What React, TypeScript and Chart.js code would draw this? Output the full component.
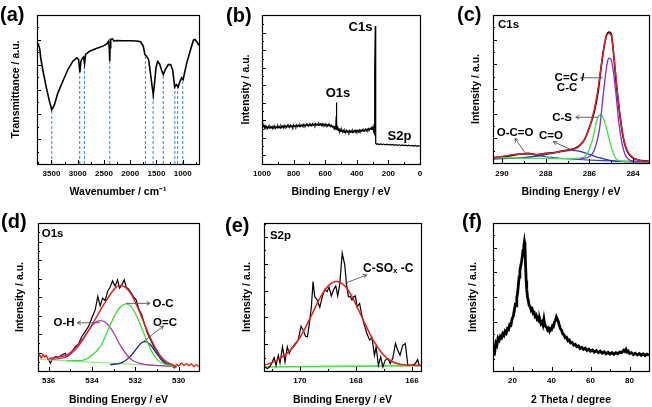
import React, { useEffect, useRef } from 'react';
import { Chart, registerables } from 'chart.js';

Chart.register(...registerables);

const W = 652;
const H = 407;
const FONT = "'Liberation Sans', Arial, Helvetica, sans-serif";
const TITLE_SIZE = 10.5;
const TICK_SIZE = 8;
const NOTE_SIZE = 11.5;

type Pt = [number, number];

// ---------------- (a) FTIR ----------------
const ftirCurve: Pt[] = [
  [3774, 79.1], [3749, 80.2], [3723, 77.3], [3704, 71.2], [3666, 63.4], [3602, 52.1], [3538, 42.0],
  [3494, 36.4], [3443, 39.8], [3379, 47.6], [3283, 55.5], [3187, 63.4], [3092, 69.0], [3015, 71.2],
  [2983, 70.1], [2958, 61.6], [2939, 69.0], [2907, 71.2], [2888, 71.9], [2869, 67.4], [2849, 73.5],
  [2773, 75.7], [2645, 77.5], [2518, 79.1], [2441, 80.7], [2409, 82.5], [2397, 76.9], [2390, 69.0],
  [2384, 78.0], [2371, 83.6], [2339, 84.0], [2307, 82.5], [2263, 82.9], [2135, 82.7], [2008, 82.7],
  [1880, 82.5], [1803, 82.0], [1752, 79.1], [1720, 73.5], [1689, 72.4], [1650, 70.1], [1619, 62.2],
  [1587, 53.3], [1561, 46.5], [1536, 54.4], [1510, 64.5], [1478, 68.8], [1440, 67.2], [1402, 62.9],
  [1370, 60.0], [1332, 63.4], [1274, 66.7], [1229, 66.7], [1191, 62.9], [1153, 51.7], [1121, 53.3],
  [1089, 51.7], [1051, 55.5], [1019, 57.8], [993, 56.6], [968, 60.7], [923, 67.9], [860, 75.7],
  [796, 83.1], [764, 83.6], [732, 82.0], [690, 79.6],
];
const ftirBandWavenumbers = [3494, 2962, 2872, 2390, 1710, 1564, 1370, 1150, 1098, 1000];
const ftirBandLevels = [36.4, 62.0, 67.4, 69.0, 73.2, 46.5, 60.0, 51.7, 52.5, 56.6];
const ftirTicks = [3500, 3000, 2500, 2000, 1500, 1000];

// ---------------- (b) XPS survey ----------------
const surveyCurve: Pt[] = [
  [1000, 25.5], [997, 28.5], [994, 27.0], [991, 25.0], [988, 26.5], [984, 24.2], [980, 25.6], [975, 24.4],
  [970, 25.3], [965, 23.9], [960, 25.2], [955, 24.1], [950, 25.5], [945, 24.4], [940, 25.0], [935, 23.8],
  [930, 25.4], [925, 24.5], [920, 25.6], [915, 24.0], [910, 25.1], [905, 24.3], [900, 25.7], [895, 24.6],
  [890, 25.2], [885, 24.1], [880, 25.8], [875, 24.7], [870, 25.4], [865, 24.3], [860, 25.9], [855, 24.8],
  [850, 25.5], [845, 24.6], [840, 26.0], [835, 24.9], [830, 25.6], [825, 24.5], [820, 26.1], [815, 25.0],
  [810, 25.7], [805, 24.6], [800, 26.2], [795, 25.1], [790, 25.8], [785, 24.9], [780, 26.3], [775, 25.2],
  [770, 26.0], [765, 25.0], [760, 26.5], [755, 25.4], [750, 26.1], [745, 25.2], [740, 26.6], [735, 25.5],
  [730, 26.3], [725, 25.3], [720, 26.8], [715, 25.7], [710, 26.4], [705, 25.5], [700, 26.9], [695, 25.8],
  [690, 26.5], [685, 25.6], [680, 27.0], [675, 26.0], [670, 26.7], [665, 25.7], [660, 27.1], [655, 26.1],
  [650, 26.8], [645, 25.9], [640, 27.2], [635, 26.2], [630, 26.9], [625, 25.8], [620, 27.1], [615, 26.0],
  [610, 26.7], [605, 25.7], [600, 26.9], [595, 25.8], [590, 26.5], [585, 25.4], [580, 26.6], [575, 25.5],
  [570, 26.2], [565, 25.1], [560, 26.0], [555, 24.8], [550, 25.4], [545, 24.2], [540, 24.8], [536, 23.4],
  [533, 24.6], [531, 30.0], [529, 41.2], [527, 29.0], [525, 23.0], [521, 25.2], [517, 22.4], [513, 24.0],
  [509, 21.6], [505, 23.2], [500, 21.8], [495, 23.0], [490, 21.4], [485, 22.6], [480, 21.2], [475, 22.4],
  [470, 21.0], [465, 22.5], [460, 21.3], [455, 22.2], [450, 21.0], [445, 22.4], [440, 21.4], [435, 22.3],
  [430, 21.1], [425, 22.6], [420, 21.5], [415, 22.4], [410, 21.3], [405, 22.7], [400, 21.6], [395, 22.5],
  [390, 21.5], [385, 22.9], [380, 21.8], [375, 22.7], [370, 21.9], [365, 23.1], [360, 22.0], [355, 23.0],
  [350, 22.2], [345, 23.4], [340, 22.4], [335, 23.5], [330, 22.6], [325, 23.8], [320, 22.8], [315, 24.0],
  [310, 23.2], [305, 24.4], [300, 23.6], [297, 25.0], [294, 22.0], [291, 21.0], [289, 20.0], [287, 28.0],
  [285, 60.0], [283, 92.6], [281.5, 60.0], [280.5, 20.0], [279, 13.8], [275, 13.3], [270, 13.6], [260, 13.1],
  [250, 13.5], [240, 13.0], [230, 13.4], [220, 12.9], [210, 13.3], [200, 12.8], [190, 13.2], [180, 12.7],
  [170, 13.1], [160, 12.6], [150, 13.0], [140, 12.5], [130, 12.9], [120, 12.4], [110, 12.8], [100, 12.3],
  [90, 12.7], [80, 12.2], [70, 12.6], [60, 12.1], [50, 12.5], [40, 12.0], [30, 12.4], [20, 11.9], [10, 12.3],
  [0, 11.9],
];
const surveyTicks = [1000, 800, 600, 400, 200, 0];

// ---------------- (c) C1s ----------------
const c1sRaw: Pt[] = [
  [290.41, 3.6], [290.0, 4.0], [289.6, 5.0], [289.2, 5.9], [288.8, 6.5], [288.4, 5.5], [288.0, 6.5],
  [287.6, 7.0], [287.2, 8.3], [286.9, 9.0], [286.6, 10.4], [286.4, 12.5], [286.2, 16.5], [286.0, 24.0],
  [285.8, 33.0], [285.6, 48.0], [285.45, 66.0], [285.3, 80.5], [285.2, 87.0], [285.1, 88.5], [285.0, 87.5],
  [284.9, 75.0], [284.75, 51.0], [284.6, 32.0], [284.45, 17.0], [284.3, 9.0], [284.1, 4.5], [283.8, 2.2],
  [283.27, 1.2],
];
const c1sFit: Pt[] = [
  [290.41, 3.4], [289.95, 4.5], [289.34, 5.8], [288.88, 6.3], [288.42, 5.8], [287.96, 6.3], [287.5, 7.2],
  [287.04, 8.5], [286.58, 10.1], [286.35, 13.0], [286.12, 19.1], [285.89, 29.2], [285.66, 44.9],
  [285.48, 62.9], [285.33, 78.7], [285.2, 86.5], [285.1, 87.6], [284.99, 85.8], [284.87, 71.9],
  [284.74, 51.7], [284.59, 31.5], [284.44, 16.9], [284.25, 7.9], [283.98, 3.4], [283.67, 1.8], [283.27, 1.1],
];
const c1sCC: Pt[] = [
  [286.43, 2.7], [285.97, 4.5], [285.74, 10.1], [285.54, 22.5], [285.39, 42.7], [285.26, 59.6],
  [285.17, 68.5], [285.1, 70.8], [285.0, 69.7], [284.9, 61.8], [284.77, 44.9], [284.65, 27.0],
  [284.51, 13.5], [284.36, 5.6], [284.13, 1.8], [283.67, 0.9], [283.27, 0.7],
];
const c1sCS: Pt[] = [
  [290.41, 3.6], [288.73, 3.1], [287.19, 2.9], [286.35, 3.4], [286.04, 7.9], [285.84, 16.9], [285.69, 27.0],
  [285.59, 31.5], [285.48, 32.6], [285.36, 30.3], [285.2, 22.5], [285.05, 13.5], [284.9, 6.3], [284.72, 2.2],
  [284.28, 0.9], [283.27, 0.7],
];
const c1sCO: Pt[] = [
  [290.41, 2.7], [289.03, 3.6], [288.27, 4.9], [287.65, 6.7], [287.19, 7.9], [286.81, 8.5], [286.43, 7.9],
  [285.97, 5.6], [285.51, 3.4], [285.05, 1.8], [284.44, 0.9], [283.27, 0.7],
];
const c1sOCO: Pt[] = [
  [290.41, 3.6], [289.8, 4.9], [289.19, 6.1], [288.73, 6.1], [288.27, 4.9], [287.65, 3.6], [286.89, 2.7],
  [285.66, 1.8], [283.27, 0.9],
];
const c1sTicks = [290, 288, 286, 284];

// ---------------- (d) O1s ----------------
const o1sRaw: Pt[] = [
  [536.0, 7.9], [535.92, 5.2], [535.85, 7.4], [535.69, 9.7], [535.54, 9.3], [535.39, 10.8], [535.23, 12.0],
  [535.16, 9.7], [535.0, 11.5], [534.77, 16.5], [534.62, 18.3], [534.47, 23.3], [534.31, 26.6],
  [534.16, 30.0], [534.01, 35.7], [533.85, 41.3], [533.73, 50.3], [533.62, 44.0], [533.51, 49.2],
  [533.39, 47.6], [533.28, 53.7], [533.16, 56.7], [533.05, 60.9], [532.93, 57.3], [532.82, 61.6],
  [532.73, 56.0], [532.62, 58.2], [532.51, 61.6], [532.42, 56.7], [532.31, 55.3], [532.19, 52.6],
  [532.09, 50.3], [531.96, 48.1], [531.84, 41.8], [531.7, 37.9], [531.58, 31.8], [531.44, 25.5],
  [531.29, 21.0], [531.14, 16.5], [530.99, 13.1], [530.83, 9.7], [530.68, 7.0], [530.53, 5.6],
  [530.37, 4.7], [530.25, 2.9], [530.17, 1.8],
];
const o1sFit: Pt[] = [
  [536.49, 9.7], [536.41, 10.8], [536.34, 8.6], [536.26, 11.3], [536.18, 9.3], [536.11, 10.6],
  [536.03, 7.9], [535.92, 8.6], [535.62, 9.3], [535.16, 10.8], [534.7, 16.5], [534.24, 25.5],
  [533.78, 36.8], [533.32, 48.1], [532.93, 56.0], [532.7, 57.8], [532.47, 56.7], [532.17, 51.5],
  [531.78, 39.1], [531.4, 25.5], [531.02, 14.2], [530.71, 7.9], [530.4, 4.7], [530.25, 4.1],
  [530.17, 2.9], [530.1, 4.5], [529.99, 3.4], [529.87, 5.2], [529.75, 3.8], [529.64, 5.0],
  [529.52, 3.6], [529.41, 4.7], [529.29, 2.9], [529.18, 4.3], [529.06, 2.9],
];
const o1sOC: Pt[] = [
  [535.16, 7.0], [534.54, 7.0], [534.08, 9.7], [533.62, 16.5], [533.32, 25.5], [533.01, 35.7],
  [532.7, 43.1], [532.43, 45.4], [532.17, 43.1], [531.86, 34.5], [531.55, 23.3], [531.24, 13.1],
  [530.94, 7.0], [530.55, 4.1], [530.1, 2.9],
];
const o1sOH: Pt[] = [
  [535.92, 7.9], [535.31, 8.8], [534.85, 13.1], [534.47, 19.9], [534.16, 27.3], [533.85, 32.7],
  [533.59, 34.1], [533.32, 32.3], [533.01, 26.0], [532.7, 17.6], [532.39, 10.8], [532.09, 6.8],
  [531.63, 4.7], [530.86, 3.6], [530.1, 2.9],
];
const o1sOdC: Pt[] = [
  [533.16, 4.3], [532.62, 5.6], [532.24, 9.7], [531.93, 15.3], [531.7, 19.2], [531.55, 19.9],
  [531.32, 18.1], [531.02, 12.0], [530.71, 6.3], [530.4, 3.6], [530.1, 2.5],
];
const o1sBase: Pt[] = [[536.4, 7.9], [530.1, 2.9]];
const o1sTicks = [536, 534, 532, 530];

// ---------------- (e) S2p ----------------
const s2pRaw: Pt[] = [
  [171.24, 2.7], [171.16, 1.6], [171.09, 2.7], [171.01, 5.0], [170.92, 9.0], [170.85, 3.8], [170.77, 10.6],
  [170.71, 5.4], [170.62, 16.3], [170.53, 6.1], [170.45, 16.3], [170.38, 11.8], [170.3, 15.2],
  [170.18, 18.1], [170.06, 20.8], [169.96, 30.3], [169.88, 27.6], [169.8, 23.5], [169.73, 23.1],
  [169.67, 31.0], [169.59, 43.4], [169.53, 60.4], [169.47, 50.2], [169.38, 48.0], [169.29, 43.0],
  [169.2, 50.2], [169.11, 55.2], [169.03, 53.6], [168.96, 56.6], [168.88, 50.7], [168.79, 55.2],
  [168.72, 57.5], [168.65, 50.7], [168.58, 58.4], [168.49, 79.6], [168.4, 71.7], [168.34, 59.3],
  [168.27, 50.2], [168.2, 50.2], [168.14, 48.0], [168.08, 50.2], [168.02, 50.7], [167.96, 43.4],
  [167.87, 45.7], [167.78, 36.7], [167.69, 30.3], [167.61, 25.3], [167.51, 20.8], [167.43, 22.6],
  [167.34, 10.6], [167.28, 16.3], [167.2, 3.8], [167.12, 9.5], [167.04, 2.7], [166.96, 7.2],
  [166.86, 8.4], [166.78, 5.0], [166.69, 8.4], [166.59, 18.6], [166.51, 14.0], [166.43, 10.6],
  [166.33, 17.4], [166.24, 18.6], [166.15, 3.8], [166.07, 3.8], [165.98, 3.8], [165.88, 5.0],
  [165.8, 7.7], [165.74, 3.8], [165.68, 3.8],
];
const s2pFit: Pt[] = [
  [171.28, 3.8], [170.83, 7.2], [170.36, 13.6], [170.0, 22.6], [169.64, 35.5], [169.29, 49.1],
  [168.99, 57.5], [168.7, 60.4], [168.4, 57.5], [168.11, 49.1], [167.75, 34.8], [167.4, 21.3],
  [167.04, 11.3], [166.69, 6.1], [166.33, 4.3], [165.98, 3.8], [165.68, 3.6],
];
const s2pBase: Pt[] = [[171.28, 2.7], [165.68, 3.6]];
const s2pTicks = [170, 168, 166];

// ---------------- (f) XRD ----------------
const xrdCurve: Pt[] = [
  [10.0, 11.0], [10.5, 15.5], [11.0, 14.0], [11.5, 18.8], [12.0, 17.5], [12.6, 22.2], [13.2, 20.8],
  [13.8, 23.5], [14.4, 22.5], [15.0, 25.2], [15.6, 24.0], [16.2, 26.8], [16.8, 25.6], [17.4, 28.6],
  [18.0, 28.0], [18.6, 31.5], [19.2, 31.0], [19.8, 35.2], [20.4, 37.0], [21.0, 41.5], [21.4, 44.5],
  [21.8, 44.0], [22.2, 49.5], [22.6, 52.5], [23.0, 58.0], [23.4, 63.5], [23.8, 68.0], [24.2, 71.0],
  [24.6, 73.5], [25.0, 77.0], [25.4, 81.5], [25.8, 84.0], [26.1, 87.0], [26.4, 84.0], [26.7, 72.0],
  [27.0, 61.0], [27.3, 55.0], [27.7, 50.0], [28.1, 47.5], [28.6, 44.0], [29.1, 43.5], [29.6, 41.0],
  [30.1, 41.8], [30.6, 39.0], [31.1, 39.5], [31.6, 37.0], [32.1, 37.8], [32.6, 35.2], [33.1, 36.0],
  [33.6, 33.5], [34.1, 34.5], [34.6, 32.0], [35.1, 33.0], [35.6, 31.0], [36.1, 35.0], [36.5, 31.5],
  [37.0, 30.0], [37.5, 29.5], [38.0, 27.8], [38.5, 28.8], [39.0, 27.0], [39.5, 28.5], [40.0, 28.0],
  [40.5, 30.5], [41.0, 30.0], [41.5, 33.0], [42.0, 34.0], [42.5, 36.5], [43.0, 35.0], [43.5, 33.5],
  [44.0, 31.0], [44.6, 28.5], [45.2, 27.5], [45.8, 25.0], [46.4, 24.5], [47.0, 22.5], [47.7, 22.8],
  [48.4, 20.5], [49.1, 21.0], [49.8, 19.0], [50.6, 19.2], [51.4, 17.5], [52.2, 18.0], [53.0, 16.4],
  [53.8, 17.0], [54.6, 15.2], [55.5, 16.0], [56.4, 14.6], [57.3, 15.4], [58.2, 13.8], [59.1, 14.8],
  [60.0, 13.4], [61.0, 14.2], [62.0, 12.8], [63.0, 13.8], [64.0, 12.4], [65.0, 13.4], [66.0, 12.0],
  [67.0, 13.0], [68.0, 11.6], [69.0, 12.6], [70.0, 11.4], [71.0, 12.4], [72.0, 11.2], [73.0, 12.3],
  [74.0, 11.6], [75.0, 12.8], [76.0, 12.4], [77.0, 14.0], [77.6, 13.2], [78.2, 14.6], [78.8, 12.8],
  [79.4, 13.4], [80.0, 11.8], [81.0, 12.4], [82.0, 11.0], [83.0, 12.0], [84.0, 10.8], [85.0, 11.8],
  [86.0, 10.6], [87.0, 11.6], [88.0, 10.4], [89.0, 11.4], [90.0, 10.6],
];
const xrdTicks = [20, 40, 60, 80];

// ---------------- annotations ----------------
type Part = { t: string; size: number; dy?: number };
type Note = { text?: string; parts?: Part[]; x: number; y: number; align?: CanvasTextAlign; size?: number };
type Arrow = [number, number, number, number];

const surveyNotes: Note[] = [
  { text: 'O1s', x: 519, y: 47.7, size: 13 },
  { text: 'C1s', x: 377, y: 91.6, size: 13 },
  { text: 'S2p', x: 130, y: 18.8, size: 13 },
];
const c1sNotes: Note[] = [
  { text: 'C1s', x: 290.18, y: 93.2, align: 'left' },
  { text: 'C=C /', x: 286.91, y: 57.4 },
  { text: 'C-C', x: 287.02, y: 50.7 },
  { text: 'C-S', x: 287.25, y: 30.7 },
  { text: 'O-C=O', x: 289.4, y: 20.6 },
  { text: 'C=O', x: 287.76, y: 18.2 },
];
const c1sArrows: Arrow[] = [
  [285.38, 57.6, 286.4, 57.6],
  [285.59, 30.9, 286.62, 30.9],
  [286.73, 8.3, 287.65, 14.4],
  [288.87, 5.2, 289.4, 16.7],
];
const o1sNotes: Note[] = [
  { text: 'O1s', x: 536.32, y: 92.6, align: 'left' },
  { text: 'O-C', x: 530.72, y: 45.3 },
  { text: 'O=C', x: 530.63, y: 32.8 },
  { text: 'O-H', x: 535.29, y: 32.4 },
];
const o1sArrows: Arrow[] = [
  [532.43, 45.7, 531.32, 45.7],
  [533.63, 32.6, 534.68, 32.6],
  [531.63, 19.8, 530.7, 30.4],
];
const s2pNotes: Note[] = [
  { text: 'S2p', x: 171.07, y: 91.6, align: 'left' },
  { parts: [{ t: 'C-SO', size: 12 }, { t: 'x', size: 8, dy: 2 }, { t: ' -C', size: 12 }], x: 166.85, y: 69 },
];
const s2pArrows: Arrow[] = [[168.39, 59.3, 167.62, 64.9]];

// ---------------- drawing helpers ----------------
const decorPlugin = {
  id: 'decor',
  afterDraw(chart: any, _args: any, o: any) {
    const { ctx, chartArea: a } = chart;
    const xs = chart.scales.x;
    const ys = chart.scales.y;
    ctx.save();
    ctx.strokeStyle = '#000';
    ctx.fillStyle = '#000';
    // inward ticks on bottom and left
    ctx.lineWidth = 1;
    ctx.beginPath();
    const start = Math.ceil(xs.min / o.xMinor - 1e-6) * o.xMinor;
    for (let v = start; v <= xs.max + 1e-6; v += o.xMinor) {
      const r = v / o.xMajor;
      const major = Math.abs(r - Math.round(r)) < 1e-6;
      const px = Math.round(xs.getPixelForValue(v)) + 0.5;
      ctx.moveTo(px, a.bottom);
      ctx.lineTo(px, a.bottom - (major ? 4 : 2));
    }
    for (let k = -3; k < 40; k++) {
      const vals = [o.yStart + k * o.yStep, o.yStart + (k + 0.5) * o.yStep];
      vals.forEach((v, j) => {
        if (v < -0.01 || v > 100.01) return;
        const py = Math.round(ys.getPixelForValue(v)) + 0.5;
        ctx.moveTo(a.left, py);
        ctx.lineTo(a.left + (j === 0 ? 4 : 2), py);
      });
    }
    ctx.stroke();
    // frame
    ctx.lineWidth = 1.2;
    ctx.strokeRect(Math.round(a.left) + 0.5, Math.round(a.top) + 0.5, Math.round(a.right - a.left), Math.round(a.bottom - a.top));
    // arrows
    ctx.strokeStyle = '#555';
    ctx.lineWidth = 0.9;
    (o.arrows || []).forEach((ar: Arrow) => {
      const x1 = xs.getPixelForValue(ar[0]);
      const y1 = ys.getPixelForValue(ar[1]);
      const x2 = xs.getPixelForValue(ar[2]);
      const y2 = ys.getPixelForValue(ar[3]);
      const ang = Math.atan2(y2 - y1, x2 - x1);
      ctx.beginPath();
      ctx.moveTo(x1, y1);
      ctx.lineTo(x2, y2);
      ctx.moveTo(x2 - 4 * Math.cos(ang - 0.5), y2 - 4 * Math.sin(ang - 0.5));
      ctx.lineTo(x2, y2);
      ctx.lineTo(x2 - 4 * Math.cos(ang + 0.5), y2 - 4 * Math.sin(ang + 0.5));
      ctx.stroke();
    });
    // notes
    ctx.fillStyle = '#000';
    ctx.textBaseline = 'middle';
    (o.notes || []).forEach((n: Note) => {
      const px = xs.getPixelForValue(n.x);
      const py = ys.getPixelForValue(n.y);
      if (n.parts) {
        let total = 0;
        n.parts.forEach((p) => {
          ctx.font = `bold ${p.size}px ${FONT}`;
          total += ctx.measureText(p.t).width;
        });
        let cx = px - total / 2;
        ctx.textAlign = 'left';
        n.parts.forEach((p) => {
          ctx.font = `bold ${p.size}px ${FONT}`;
          ctx.fillText(p.t, cx, py + (p.dy || 0));
          cx += ctx.measureText(p.t).width;
        });
      } else {
        ctx.font = `bold ${n.size || NOTE_SIZE}px ${FONT}`;
        ctx.textAlign = n.align || 'center';
        ctx.fillText(n.text, px, py);
      }
    });
    // panel label
    ctx.font = `bold 20px ${FONT}`;
    ctx.textAlign = 'left';
    ctx.textBaseline = 'middle';
    ctx.fillText(o.label, o.labelX, o.labelY);
    ctx.restore();
  },
};

type Series = { pts: Pt[]; color: string; width: number; smooth?: boolean; dash?: number[] };
type Panel = {
  label: string; labelX: number; labelY: number;
  area: { l: number; t: number; r: number; b: number };
  yTitleX: number; xTitleY: number; tickY: number;
  xMin: number; xMax: number; reverse: boolean; ticks: number[]; xMajor: number; xMinor: number;
  yStart: number; yStep: number;
  xTitle: string; yTitle: string;
  series: Series[]; // first = topmost
  notes?: Note[]; arrows?: Arrow[];
};

const RED = '#ee1c1c';
const bands: Series[] = ftirBandWavenumbers.map((w, i) => ({
  pts: [[w, 0], [w, ftirBandLevels[i]]] as Pt[], color: '#3f8ff0', width: 1.1, dash: [3, 2],
}));

const panels: Panel[] = [
  {
    label: '(a)', labelX: 0, labelY: 15,
    area: { l: 37, t: 15, r: 199, b: 164 }, yTitleX: 16, xTitleY: 192, tickY: 174,
    xMin: 690, xMax: 3775, reverse: true, ticks: ftirTicks, xMajor: 500, xMinor: 250,
    yStart: 0, yStep: 100 / 6,
    xTitle: 'Wavenumber / cm⁻¹', yTitle: 'Transmittance / a.u.',
    series: [{ pts: ftirCurve, color: '#000', width: 1.6 }, ...bands],
  },
  {
    label: '(b)', labelX: 226, labelY: 16,
    area: { l: 262, t: 15, r: 420, b: 164 }, yTitleX: 246, xTitleY: 192, tickY: 174,
    xMin: 0, xMax: 1000, reverse: true, ticks: surveyTicks, xMajor: 200, xMinor: 100,
    yStart: 6, yStep: 11.75,
    xTitle: 'Binding Energy / eV', yTitle: 'Intensity / a.u.',
    series: [{ pts: surveyCurve, color: '#000', width: 1.2 }],
    notes: surveyNotes,
  },
  {
    label: '(c)', labelX: 457, labelY: 15,
    area: { l: 493, t: 15, r: 649, b: 163 }, yTitleX: 476, xTitleY: 192, tickY: 174,
    xMin: 283.27, xMax: 290.41, reverse: true, ticks: c1sTicks, xMajor: 2, xMinor: 1,
    yStart: 0, yStep: 100 / 6,
    xTitle: 'Binding Energy / eV', yTitle: 'Intensity / a.u.',
    series: [
      { pts: c1sFit, color: RED, width: 1.4, smooth: true },
      { pts: c1sCC, color: '#7b2be0', width: 1.3, smooth: true },
      { pts: c1sCS, color: '#3ce83c', width: 1.3, smooth: true },
      { pts: c1sCO, color: '#1e3ca8', width: 1.3, smooth: true },
      { pts: c1sOCO, color: '#2a48b8', width: 1.2, smooth: true },
      { pts: c1sRaw, color: '#000', width: 1.6, smooth: true },
    ],
    notes: c1sNotes, arrows: c1sArrows,
  },
  {
    label: '(d)', labelX: 1, labelY: 222,
    area: { l: 38, t: 223, r: 199, b: 371 }, yTitleX: 20, xTitleY: 400, tickY: 381,
    xMin: 529.06, xMax: 536.49, reverse: true, ticks: o1sTicks, xMajor: 2, xMinor: 1,
    yStart: 0, yStep: 12.5,
    xTitle: 'Binding Energy / eV', yTitle: 'Intensity / a.u.',
    series: [
      { pts: o1sFit, color: RED, width: 1.4, smooth: true },
      { pts: o1sOC, color: '#3ce03c', width: 1.3, smooth: true },
      { pts: o1sOH, color: '#a83ca8', width: 1.3, smooth: true },
      { pts: o1sOdC, color: '#16288a', width: 1.3, smooth: true },
      { pts: o1sBase, color: '#8cf07c', width: 1.3 },
      { pts: o1sRaw, color: '#000', width: 1.2 },
    ],
    notes: o1sNotes, arrows: o1sArrows,
  },
  {
    label: '(e)', labelX: 225, labelY: 226,
    area: { l: 264, t: 223, r: 421, b: 371 }, yTitleX: 247, xTitleY: 400, tickY: 381,
    xMin: 165.68, xMax: 171.28, reverse: true, ticks: s2pTicks, xMajor: 2, xMinor: 1,
    yStart: 0, yStep: 18.1,
    xTitle: 'Binding Energy / eV', yTitle: 'Intensity / a.u.',
    series: [
      { pts: s2pFit, color: RED, width: 1.5, smooth: true },
      { pts: s2pRaw, color: '#000', width: 1.2 },
      { pts: s2pBase, color: '#3ce83c', width: 1.6 },
    ],
    notes: s2pNotes, arrows: s2pArrows,
  },
  {
    label: '(f)', labelX: 462, labelY: 222,
    area: { l: 493, t: 223, r: 649, b: 371 }, yTitleX: 473, xTitleY: 400, tickY: 381,
    xMin: 10, xMax: 90, reverse: false, ticks: xrdTicks, xMajor: 20, xMinor: 10,
    yStart: 0, yStep: 100 / 6,
    xTitle: '2 Theta / degree', yTitle: 'Intensity / a.u.',
    series: [{ pts: xrdCurve, color: '#000', width: 2.8 }],
  },
];

function buildConfig(p: Panel): any {
  const half = TITLE_SIZE / 2;
  const datasets = p.series
    .slice()
    .reverse()
    .map((s, i) => ({
      data: s.pts.map(([x, y]) => ({ x, y })),
      showLine: true,
      borderColor: s.color,
      backgroundColor: s.color,
      borderWidth: s.width,
      borderDash: s.dash || [],
      pointRadius: 0,
      fill: false,
      tension: s.smooth ? 0.4 : 0,
      cubicInterpolationMode: s.smooth ? 'monotone' : 'default',
      order: p.series.length - i,
    }));
  return {
    type: 'scatter',
    data: { datasets },
    plugins: [decorPlugin],
    options: {
      responsive: false,
      animation: false,
      events: [],
      layout: {
        padding: {
          left: p.yTitleX - half,
          right: W - p.area.r,
          top: p.area.t,
          bottom: H - (p.xTitleY + half),
        },
      },
      plugins: {
        legend: { display: false },
        tooltip: { enabled: false },
        decor: {
          label: p.label, labelX: p.labelX, labelY: p.labelY,
          xMajor: p.xMajor, xMinor: p.xMinor, yStart: p.yStart, yStep: p.yStep,
          notes: p.notes || [], arrows: p.arrows || [],
        },
      },
      scales: {
        x: {
          type: 'linear',
          position: 'bottom',
          min: p.xMin,
          max: p.xMax,
          reverse: p.reverse,
          grid: { display: false, drawTicks: false },
          border: { display: false },
          ticks: {
            color: '#000',
            font: { family: FONT, size: TICK_SIZE, weight: 'bold' },
            padding: p.tickY - p.area.b - TICK_SIZE * 0.6,
            autoSkip: false,
            maxRotation: 0,
            includeBounds: false,
            callback: (v: any) => String(v),
          },
          afterBuildTicks: (s: any) => {
            s.ticks = p.ticks.map((v) => ({ value: v }));
          },
          title: {
            display: true,
            text: p.xTitle,
            color: '#000',
            padding: 0,
            font: { family: FONT, size: TITLE_SIZE, weight: 'bold', lineHeight: 1 },
          },
          afterFit: (s: any) => {
            s.height = p.xTitleY + half - p.area.b;
            s.paddingLeft = 0;
            s.paddingRight = 0;
          },
        },
        y: {
          type: 'linear',
          position: 'left',
          min: 0,
          max: 100,
          grid: { display: false, drawTicks: false },
          border: { display: false },
          ticks: { display: false },
          title: {
            display: true,
            text: p.yTitle,
            color: '#000',
            padding: 0,
            font: { family: FONT, size: TITLE_SIZE, weight: 'bold', lineHeight: 1 },
          },
          afterFit: (s: any) => {
            s.width = p.area.l - (p.yTitleX - half);
            s.paddingTop = 0;
            s.paddingBottom = 0;
          },
        },
      },
    },
  };
}

function PanelChart({ panel }: { panel: Panel }) {
  const ref = useRef<HTMLCanvasElement>(null);
  useEffect(() => {
    const chart = new Chart(ref.current as HTMLCanvasElement, buildConfig(panel));
    return () => chart.destroy();
  }, [panel]);
  return (
    <canvas
      ref={ref}
      width={W}
      height={H}
      style={{ position: 'absolute', left: 0, top: 0, width: W, height: H }}
    />
  );
}

export default function App() {
  return (
    <div style={{ position: 'absolute', left: 0, top: 0, width: W, height: H, background: '#fff', overflow: 'hidden' }}>
      {panels.map((p) => (
        <PanelChart key={p.label} panel={p} />
      ))}
    </div>
  );
}
